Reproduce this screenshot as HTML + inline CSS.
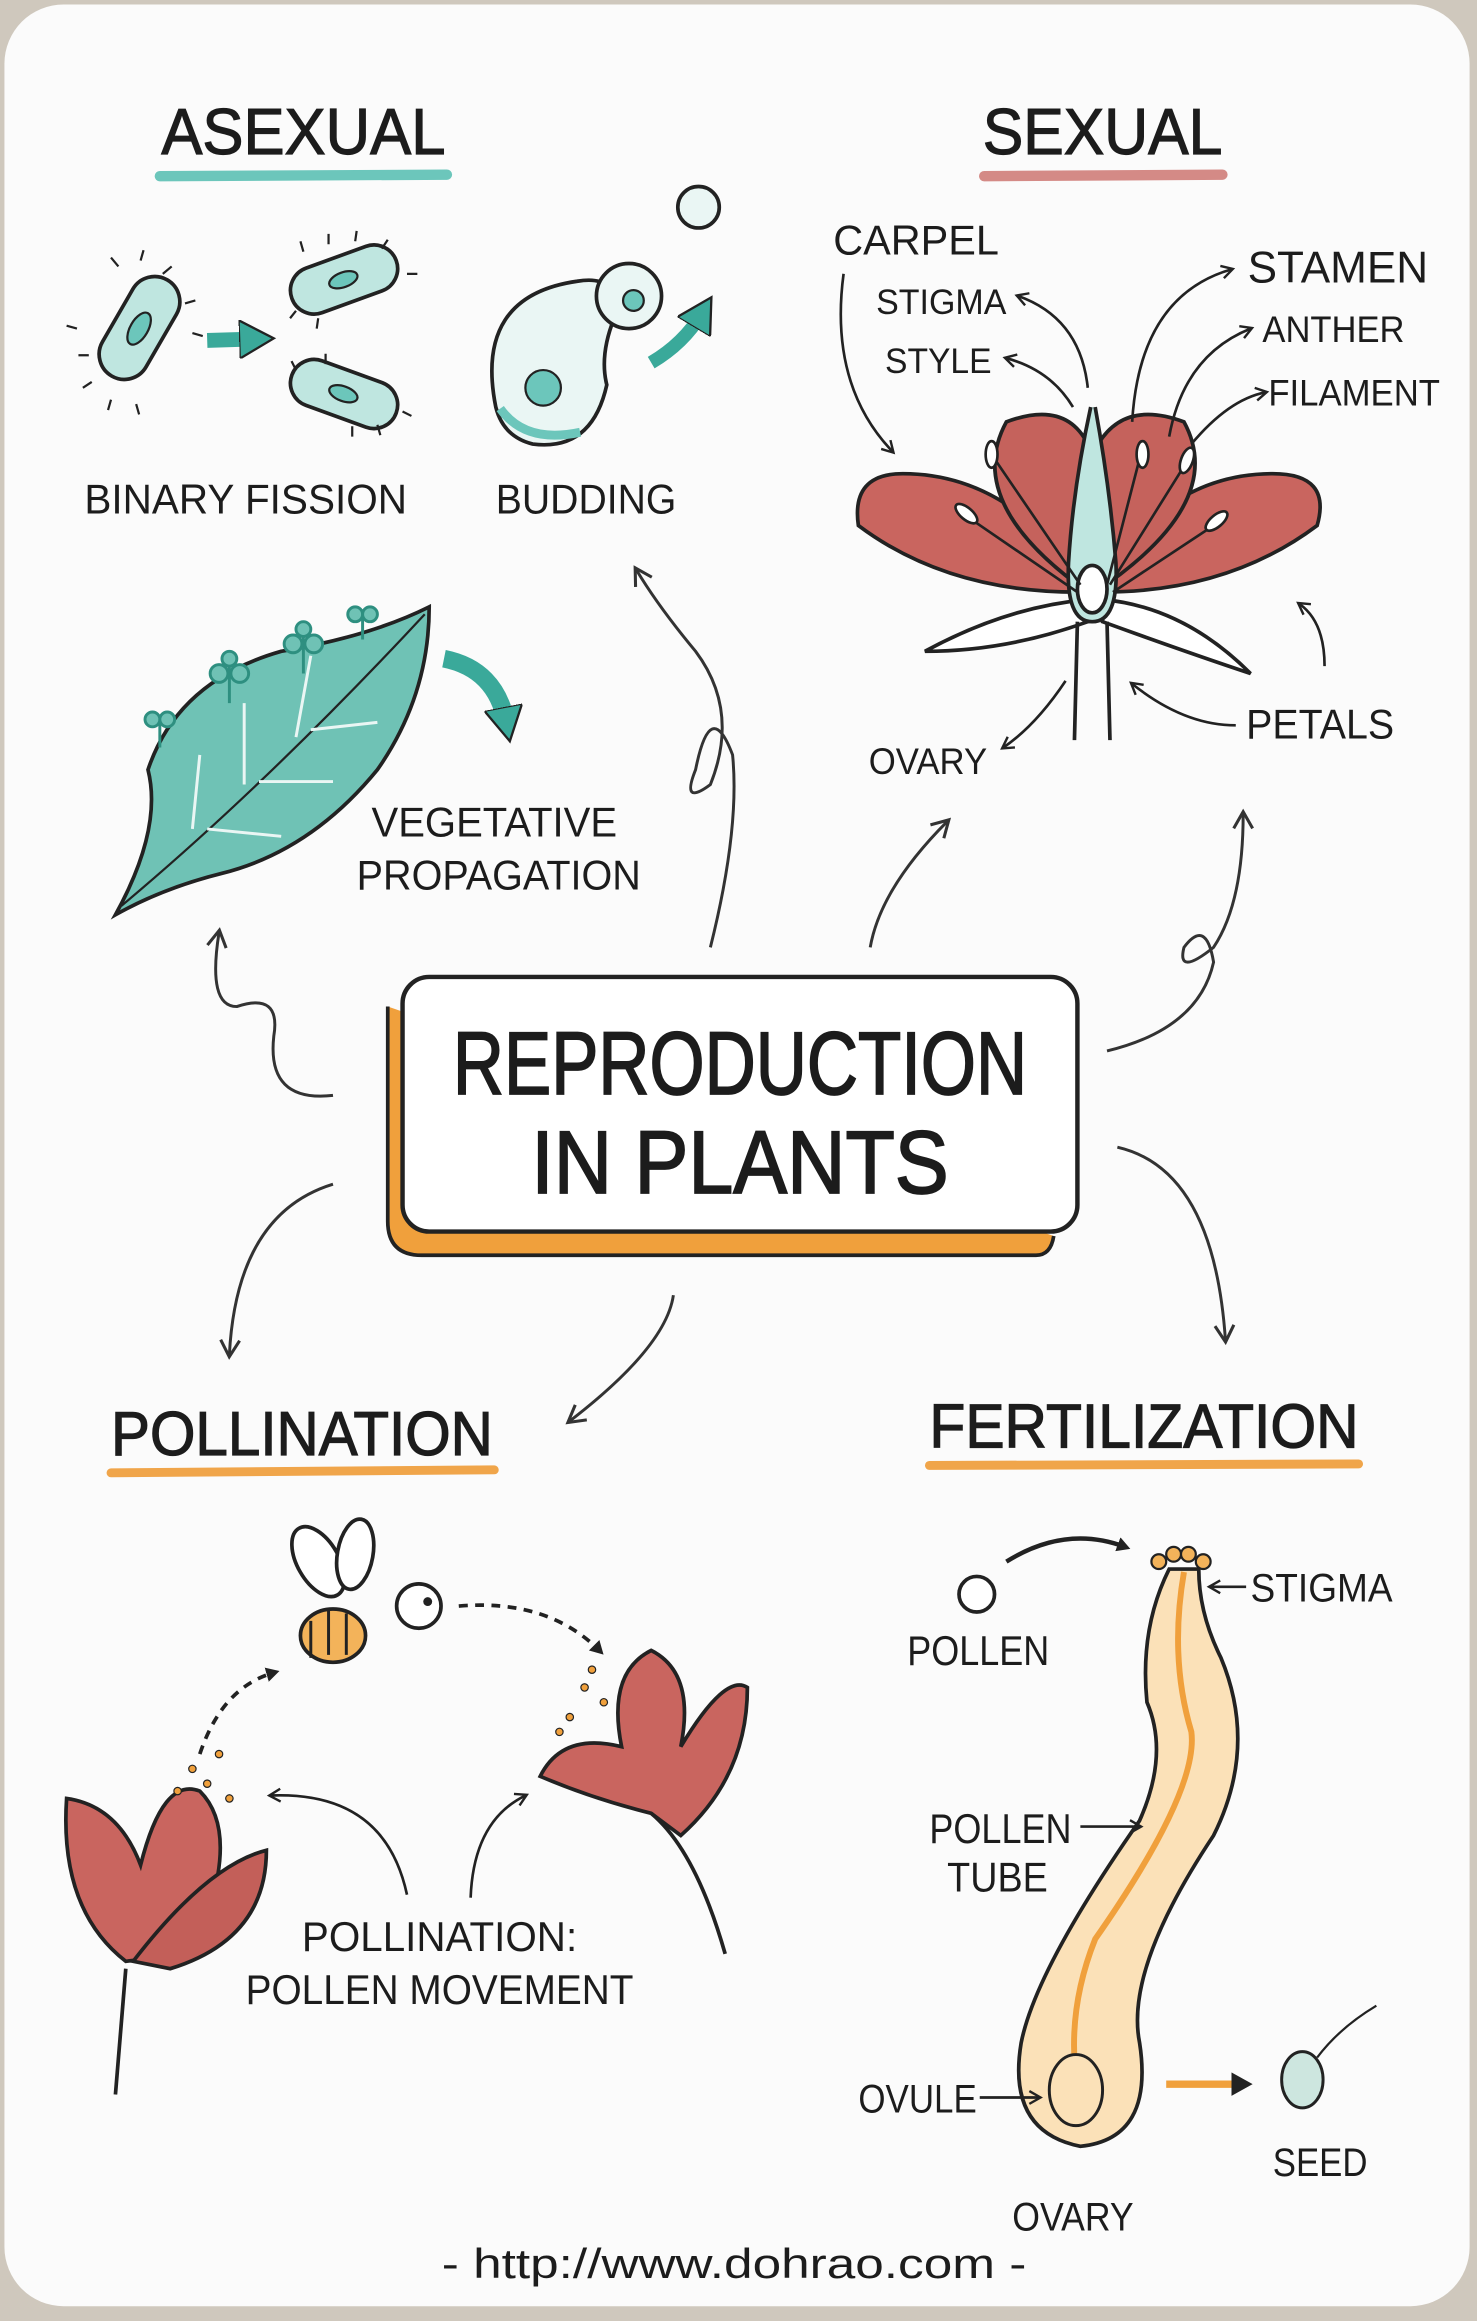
<!DOCTYPE html>
<html><head><meta charset="utf-8"><style>
html,body{margin:0;padding:0;background:#cfc8bd;}
svg{display:block}
text{font-family:"Liberation Sans",sans-serif;fill:#1c1c1c;}
</style></head><body>
<svg width="1477" height="2321" viewBox="0 0 998 1568" preserveAspectRatio="none" xmlns="http://www.w3.org/2000/svg">
<defs>
<marker id="ah" viewBox="0 0 10 10" refX="7" refY="5" markerWidth="6" markerHeight="6" orient="auto-start-reverse"><path d="M1,1 L8,5 L1,9" fill="none" stroke="#222" stroke-width="1.5"/></marker>
<marker id="ahb" viewBox="0 0 10 10" refX="7" refY="5" markerWidth="8" markerHeight="8" orient="auto-start-reverse"><path d="M1,1 L8,5 L1,9" fill="none" stroke="#333" stroke-width="1.3"/></marker>
<marker id="aho" viewBox="0 0 10 10" refX="5" refY="5" markerWidth="16" markerHeight="16" markerUnits="userSpaceOnUse" orient="auto"><path d="M0,0 L9,5 L0,10 Z" fill="#222"/></marker>
<marker id="ahs" viewBox="0 0 10 10" refX="5" refY="5" markerWidth="10" markerHeight="10" markerUnits="userSpaceOnUse" orient="auto"><path d="M0,0 L9,5 L0,10 Z" fill="#222"/></marker>
<marker id="aht" viewBox="0 0 10 10" refX="4" refY="5" markerWidth="26" markerHeight="26" markerUnits="userSpaceOnUse" orient="auto"><path d="M0,0 L9,5 L0,10 Z" fill="#3aa99a" stroke="#222" stroke-width="0.6"/></marker>
</defs>
<rect x="0" y="0" width="998" height="1568" fill="#cfc8bd"/>
<rect x="3" y="3" width="990" height="1555" rx="40" fill="#fbfbfb"/>

<!-- headings -->
<g stroke="#1c1c1c" stroke-width="0.8">
<text x="205" y="104" font-size="44" text-anchor="middle" textLength="192" lengthAdjust="spacingAndGlyphs">ASEXUAL</text>
<text x="745" y="104" font-size="44" text-anchor="middle" textLength="162" lengthAdjust="spacingAndGlyphs">SEXUAL</text>
<text x="204" y="983" font-size="42" text-anchor="middle" textLength="258" lengthAdjust="spacingAndGlyphs">POLLINATION</text>
<text x="773" y="978" font-size="42" text-anchor="middle" textLength="290" lengthAdjust="spacingAndGlyphs">FERTILIZATION</text>
</g>
<path d="M108,119 L302,118" stroke="#6cc6bb" stroke-width="7" stroke-linecap="round"/>
<path d="M665,119 L826,118" stroke="#d48a86" stroke-width="7" stroke-linecap="round"/>
<path d="M75,995 L334,993" stroke="#f0a54a" stroke-width="6" stroke-linecap="round"/>
<path d="M628,990 L918,989" stroke="#f0a54a" stroke-width="6" stroke-linecap="round"/>

<!-- binary fission -->
<g stroke="#222" stroke-width="2.5" fill="#bfe6e0">
<rect x="57" y="205" width="75" height="34" rx="17" transform="rotate(-60 94 222)"/>
<rect x="195" y="173" width="75" height="32" rx="16" transform="rotate(-20 232 189)"/>
<rect x="195" y="250" width="75" height="32" rx="16" transform="rotate(20 232 266)"/>
</g>
<g fill="#6cc6bb" stroke="#222" stroke-width="1.5">
<ellipse cx="94" cy="222" rx="12" ry="6" transform="rotate(-60 94 222)"/>
<ellipse cx="232" cy="189" rx="10" ry="5" transform="rotate(-20 232 189)"/>
<ellipse cx="232" cy="266" rx="10" ry="5" transform="rotate(20 232 266)"/>
</g>
<g stroke="#222" stroke-width="1.5">
<path d="M80,180 l-5,-6 M95,176 l2,-7 M110,185 l6,-5 M125,205 l7,-2 M130,225 l7,2 M60,240 l-7,0 M62,258 l-6,4 M75,270 l-2,7 M92,273 l2,7 M52,222 l-7,-2"/>
<path d="M205,170 l-2,-7 M222,165 l0,-7 M240,163 l1,-7 M258,168 l4,-6 M275,185 l7,0 M200,210 l-4,5 M215,215 l-1,7 M200,250 l-3,-6 M220,246 l0,-7 M272,278 l6,3 M255,287 l2,7 M238,288 l0,7"/>
</g>
<path d="M140,230 L172,229" stroke="#3aa99a" stroke-width="10" marker-end="url(#aht)"/>
<text x="166" y="347" font-size="28" text-anchor="middle" textLength="218" lengthAdjust="spacingAndGlyphs">BINARY FISSION</text>

<!-- budding -->
<g stroke="#222" stroke-width="2.5" fill="#eaf6f4">
<path d="M335,275 Q320,200 390,190 Q420,185 415,215 Q405,240 410,260 Q400,305 360,300 Q340,295 335,275 Z"/>
<circle cx="425" cy="200" r="22"/>
<circle cx="472" cy="140" r="14"/>
</g>
<circle cx="367" cy="262" r="12" fill="#6cc6bb" stroke="#222" stroke-width="1.5"/>
<circle cx="428" cy="203" r="7" fill="#6cc6bb" stroke="#222" stroke-width="1.5"/>
<path d="M338,276 Q355,300 392,292" stroke="#6cc6bb" stroke-width="6" fill="none"/>
<path d="M440,245 Q462,232 474,212" stroke="#3aa99a" stroke-width="9" fill="none" marker-end="url(#aht)"/>
<text x="396" y="347" font-size="28" text-anchor="middle" textLength="122" lengthAdjust="spacingAndGlyphs">BUDDING</text>

<!-- leaf -->
<path d="M78,618 Q110,560 100,520 Q120,460 190,440 Q250,430 290,410 Q290,470 255,520 Q210,575 150,590 Q110,600 78,618 Z" fill="#6fc2b5" stroke="#222" stroke-width="2.5"/>
<path d="M82,612 Q180,530 287,415" stroke="#222" stroke-width="1.5" fill="none"/>
<path d="M130,560 l5,-50 M165,530 l0,-55 M200,498 l10,-55 M140,560 l50,5 M175,528 l50,0 M210,493 l45,-5" stroke="#eaf6f4" stroke-width="2" fill="none"/>
<g stroke="#2e8f80" stroke-width="2" fill="#6fc2b5">
<path d="M108,505 v-20 M155,475 v-25 M205,455 v-25 M245,432 v-20"/>
<circle cx="103" cy="486" r="5"/><circle cx="113" cy="486" r="5"/>
<circle cx="148" cy="455" r="6"/><circle cx="162" cy="455" r="6"/><circle cx="155" cy="445" r="5"/>
<circle cx="198" cy="435" r="6"/><circle cx="212" cy="435" r="6"/><circle cx="205" cy="425" r="5"/>
<circle cx="240" cy="415" r="5"/><circle cx="250" cy="415" r="5"/>
</g>
<path d="M300,445 Q335,452 342,488" stroke="#3aa99a" stroke-width="12" fill="none" marker-end="url(#aht)"/>
<text x="334" y="565" font-size="28" text-anchor="middle" textLength="166" lengthAdjust="spacingAndGlyphs">VEGETATIVE</text>
<text x="337" y="601" font-size="28" text-anchor="middle" textLength="192" lengthAdjust="spacingAndGlyphs">PROPAGATION</text>

<!-- sexual flower -->
<g stroke="#222" stroke-width="2.5">
<path d="M728,400 Q640,400 580,355 Q575,320 610,320 Q680,320 730,390 Z" fill="#c9655f"/>
<path d="M745,400 Q830,400 890,355 Q900,320 860,320 Q790,320 745,390 Z" fill="#c9655f"/>
<path d="M735,400 Q650,340 680,285 Q720,270 735,300 Z" fill="#c5625c"/>
<path d="M740,400 Q830,340 800,285 Q760,270 742,300 Z" fill="#c5625c"/>
<path d="M735,420 Q680,440 625,440 Q680,410 735,405 Z" fill="#fff"/>
<path d="M745,420 Q800,440 845,455 Q800,410 745,405 Z" fill="#fff"/>
<path d="M728,420 L726,500 M748,420 L750,500" fill="none"/>
<path d="M737,275 Q725,330 722,380 Q720,420 738,420 Q756,420 754,380 Q750,330 740,275" fill="#bfe6e0"/>
<ellipse cx="738" cy="398" rx="10" ry="16" fill="#fff"/>
</g>
<g stroke="#222" stroke-width="1.8" fill="#fff">
<path d="M730,395 L672,310 M728,400 L655,350 M748,395 L770,310 M750,395 L800,315 M752,400 L820,355" fill="none"/>
<ellipse cx="670" cy="307" rx="4" ry="9"/><ellipse cx="653" cy="347" rx="4" ry="9" transform="rotate(-50 653 347)"/>
<ellipse cx="772" cy="307" rx="4" ry="9"/><ellipse cx="802" cy="311" rx="4" ry="9" transform="rotate(20 802 311)"/>
<ellipse cx="822" cy="352" rx="4" ry="9" transform="rotate(50 822 352)"/>
</g>
<text x="563" y="172" font-size="28" textLength="112" lengthAdjust="spacingAndGlyphs">CARPEL</text>
<text x="592" y="212" font-size="24" textLength="88" lengthAdjust="spacingAndGlyphs">STIGMA</text>
<text x="598" y="252" font-size="24" textLength="72" lengthAdjust="spacingAndGlyphs">STYLE</text>
<text x="843" y="191" font-size="30" textLength="122" lengthAdjust="spacingAndGlyphs">STAMEN</text>
<text x="853" y="231" font-size="25" textLength="96" lengthAdjust="spacingAndGlyphs">ANTHER</text>
<text x="857" y="274" font-size="25" textLength="116" lengthAdjust="spacingAndGlyphs">FILAMENT</text>
<text x="587" y="523" font-size="25" textLength="80" lengthAdjust="spacingAndGlyphs">OVARY</text>
<text x="842" y="499" font-size="28" textLength="100" lengthAdjust="spacingAndGlyphs">PETALS</text>
<g stroke="#222" stroke-width="1.8" fill="none" marker-end="url(#ah)">
<path d="M570,185 Q560,260 603,305"/>
<path d="M735,262 Q730,215 688,200"/>
<path d="M725,275 Q710,250 680,242"/>
<path d="M765,285 Q770,200 832,182"/>
<path d="M790,295 Q800,240 845,222"/>
<path d="M805,300 Q830,270 855,265"/>
<path d="M720,460 Q700,490 678,505"/>
<path d="M835,490 Q800,490 765,462"/>
<path d="M895,450 Q895,420 878,408"/>
</g>

<!-- connectors from center -->
<g stroke="#333" stroke-width="2" fill="none" marker-end="url(#ahb)">
<path d="M480,640 Q500,560 495,510 Q480,470 470,520 Q460,545 480,530 Q500,480 470,440 Q445,410 430,385"/>
<path d="M225,740 Q180,745 185,700 Q190,670 160,680 Q140,680 148,630"/>
<path d="M588,640 Q595,600 640,555"/>
<path d="M748,710 Q810,695 820,650 Q815,620 800,640 Q795,660 820,640 Q840,610 840,550"/>
<path d="M225,800 Q160,820 155,915"/>
<path d="M455,875 Q450,910 385,960"/>
<path d="M755,775 Q820,790 828,905"/>
</g>

<!-- center box -->
<path d="M262,680 L262,825 Q262,848 285,848 L700,848 Q710,848 712,835" fill="#f0a03c" stroke="#222" stroke-width="2.5"/>
<rect x="272" y="660" width="456" height="172" rx="18" fill="#fff" stroke="#222" stroke-width="3"/>
<g stroke="#1c1c1c" stroke-width="1.2">
<text x="500" y="739" font-size="60" text-anchor="middle" textLength="388" lengthAdjust="spacingAndGlyphs">REPRODUCTION</text>
<text x="500" y="806" font-size="60" text-anchor="middle" textLength="282" lengthAdjust="spacingAndGlyphs">IN PLANTS</text>
</g>

<!-- pollination -->
<g stroke="#222" stroke-width="2.5">
<path d="M85,1325 Q40,1290 45,1215 Q80,1220 95,1260 Q110,1200 135,1210 Q165,1240 130,1320 Z" fill="#c9655f"/>
<path d="M90,1325 Q140,1260 180,1250 Q180,1310 115,1330 Z" fill="#c35f59"/>
<path d="M85,1330 L78,1415" fill="none"/>
<path d="M440,1225 Q400,1215 365,1200 Q380,1170 420,1180 Q410,1130 440,1115 Q470,1130 460,1180 Q490,1130 505,1140 Q505,1200 460,1240 Z" fill="#c9655f"/>
<path d="M440,1225 Q470,1250 490,1320" fill="none"/>
<ellipse cx="225" cy="1105" rx="22" ry="18" fill="#f3b35a"/>
<circle cx="283" cy="1085" r="15" fill="#fff"/>
<ellipse cx="215" cy="1055" rx="14" ry="26" fill="#fff" transform="rotate(-30 215 1055)"/>
<ellipse cx="240" cy="1050" rx="12" ry="24" fill="#fff" transform="rotate(10 240 1050)"/>
</g>
<path d="M210,1095 v25 M222,1088 v30 M234,1090 v28" stroke="#222" stroke-width="2"/>
<circle cx="289" cy="1082" r="3" fill="#222"/>
<g stroke="#222" stroke-width="2.5" fill="none" stroke-dasharray="6,5">
<path d="M135,1185 Q150,1140 185,1130" marker-end="url(#ahs)"/>
<path d="M310,1085 Q370,1080 405,1115" marker-end="url(#ahs)"/>
</g>
<g fill="#f0a03c" stroke="#222" stroke-width="0.8">
<circle cx="130" cy="1195" r="2.5"/><circle cx="140" cy="1205" r="2.5"/><circle cx="148" cy="1185" r="2.5"/><circle cx="155" cy="1215" r="2.5"/><circle cx="120" cy="1210" r="2.5"/>
<circle cx="395" cy="1140" r="2.5"/><circle cx="385" cy="1160" r="2.5"/><circle cx="408" cy="1150" r="2.5"/><circle cx="378" cy="1170" r="2.5"/><circle cx="400" cy="1128" r="2.5"/>
</g>
<g stroke="#222" stroke-width="1.8" fill="none" marker-end="url(#ah)">
<path d="M275,1280 Q260,1210 183,1213"/>
<path d="M318,1282 Q320,1230 355,1213"/>
</g>
<text x="297" y="1318" font-size="28" text-anchor="middle" textLength="186" lengthAdjust="spacingAndGlyphs">POLLINATION:</text>
<text x="297" y="1354" font-size="28" text-anchor="middle" textLength="262" lengthAdjust="spacingAndGlyphs">POLLEN MOVEMENT</text>

<!-- fertilization -->
<circle cx="660" cy="1077" r="12" fill="#fff" stroke="#222" stroke-width="2.5"/>
<path d="M680,1055 Q720,1030 760,1045" stroke="#222" stroke-width="3" fill="none" marker-end="url(#ahs)"/>
<text x="613" y="1125" font-size="28" textLength="96" lengthAdjust="spacingAndGlyphs">POLLEN</text>
<path d="M790,1060 Q770,1100 775,1150 Q790,1185 770,1230 Q700,1330 690,1380 Q680,1440 730,1450 Q780,1445 770,1380 Q760,1330 820,1240 Q850,1180 825,1120 Q810,1090 810,1060 Z" fill="#fbe1b8" stroke="#222" stroke-width="2.5"/>
<path d="M800,1062 Q790,1120 805,1170 Q810,1210 740,1310 Q720,1360 728,1410" stroke="#f0a03c" stroke-width="4" fill="none"/>
<ellipse cx="727" cy="1412" rx="18" ry="24" fill="#fbe1b8" stroke="#222" stroke-width="2"/>
<g fill="#f3b35a" stroke="#222" stroke-width="1.5"><circle cx="783" cy="1055" r="5"/><circle cx="793" cy="1050" r="5"/><circle cx="803" cy="1050" r="5"/><circle cx="813" cy="1055" r="5"/></g>
<text x="845" y="1082" font-size="27" textLength="96" lengthAdjust="spacingAndGlyphs">STIGMA</text>
<path d="M842,1072 L818,1072" stroke="#222" stroke-width="1.8" marker-end="url(#ah)"/>
<text x="628" y="1245" font-size="28" textLength="96" lengthAdjust="spacingAndGlyphs">POLLEN</text>
<text x="640" y="1278" font-size="28" textLength="68" lengthAdjust="spacingAndGlyphs">TUBE</text>
<path d="M730,1234 L770,1234" stroke="#222" stroke-width="1.8" marker-end="url(#ah)"/>
<text x="580" y="1427" font-size="27" textLength="80" lengthAdjust="spacingAndGlyphs">OVULE</text>
<path d="M662,1417 L702,1417" stroke="#222" stroke-width="1.8" marker-end="url(#ah)"/>
<path d="M788,1408 L840,1408" stroke="#f0a03c" stroke-width="5" marker-end="url(#aho)"/>
<ellipse cx="880" cy="1405" rx="14" ry="19" fill="#cde6df" stroke="#222" stroke-width="2"/>
<path d="M890,1390 Q905,1370 930,1355" stroke="#222" stroke-width="1.5" fill="none"/>
<text x="860" y="1470" font-size="27" textLength="64" lengthAdjust="spacingAndGlyphs">SEED</text>
<text x="684" y="1507" font-size="27" textLength="82" lengthAdjust="spacingAndGlyphs">OVARY</text>

<text x="496" y="1539" font-size="28" text-anchor="middle" textLength="395" lengthAdjust="spacingAndGlyphs">- http://www.dohrao.com -</text>
</svg>
</body></html>
